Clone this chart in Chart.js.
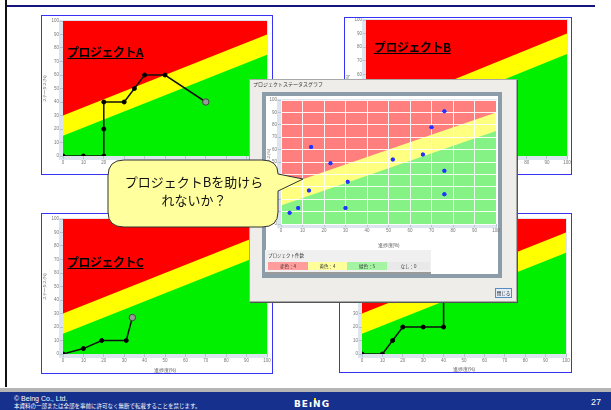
<!DOCTYPE html>
<html>
<head>
<meta charset="utf-8">
<script src="https://cdn.jsdelivr.net/npm/chart.js@4.4.0/dist/chart.umd.min.js"></script>
<style>
body{margin:0;width:611px;height:410px;position:relative;overflow:hidden;background:#fff;font-family:"Noto Sans CJK JP","Noto Sans",sans-serif;}
.abs{position:absolute}
.box{position:absolute;border:1px solid #3434f2;background:#fff}
.box canvas{position:absolute;left:0;top:0}
.plabel{position:absolute;font-size:12px;font-weight:bold;line-height:12px;text-decoration:underline;color:#000;letter-spacing:-0.5px;white-space:nowrap}
.cell{position:absolute;top:262px;height:8px;font-size:4.5px;line-height:8px;text-align:center;color:#333}
</style>
</head>
<body>
<div class="abs" style="left:5px;top:0;width:2px;height:387px;background:#111"></div>
<div class="abs" style="left:7px;top:5px;width:588px;height:2px;background:#14147a"></div>

<div class="box" style="left:41px;top:15px;width:230px;height:158px"><canvas id="cA" width="230" height="158"></canvas></div>
<div class="box" style="left:344px;top:17px;width:226px;height:156px"><canvas id="cB" width="226" height="156"></canvas></div>
<div class="box" style="left:41px;top:213px;width:230px;height:159px"><canvas id="cC" width="230" height="159"></canvas></div>
<div class="box" style="left:339px;top:213px;width:231px;height:158px"><canvas id="cD" width="231" height="158"></canvas></div>

<div class="plabel" style="left:67px;top:46px">プロジェクトA</div>
<div class="plabel" style="left:374px;top:41px">プロジェクトB</div>
<div class="plabel" style="left:67px;top:256px">プロジェクトC</div>

<!-- popup window -->
<div class="abs" style="left:249px;top:79px;width:266px;height:221px;background:#efede9;border:1px solid #a8a8a8;box-shadow:1px 1px 0 #555"></div>
<div class="abs" style="left:253px;top:80px;font-size:5px;line-height:7px;color:#333">プロジェクトステータスグラフ</div>
<div class="abs" style="left:262px;top:92px;width:240px;height:186px;box-sizing:border-box;border:4px solid #8c9da9;background:#fff"></div>
<canvas id="cP" class="abs" width="234" height="152" style="left:266px;top:96px"></canvas>
<div class="abs" style="left:265px;top:250px;width:166px;height:22px;background:#f0f0f0;border-bottom:2px solid #9a9a9a"></div>
<div class="abs" style="left:268px;top:252px;font-size:4.5px;line-height:6px;color:#333">プロジェクト件数</div>
<div class="cell" style="left:268px;width:40px;background:#ff9c9c">赤色：4</div>
<div class="cell" style="left:308px;width:39px;background:#ffff9c">黄色：4</div>
<div class="cell" style="left:347px;width:40px;background:#a4f4a4">緑色：5</div>
<div class="cell" style="left:387px;width:43px;background:#e9e9e9">なし：0</div>
<div class="abs" style="left:495px;top:288px;width:15px;height:8px;border:1px solid #5b8cc0;background:#e4edf7;font-size:4.5px;line-height:8px;text-align:center;color:#222">閉じる</div>

<!-- callout -->
<svg class="abs" style="left:0;top:0" width="611" height="410">
<path d="M124,160 H262 Q278,160 278,174 L303,179 L278,191 V212 Q278,227 262,227 H124 Q108,227 108,212 V176 Q108,160 124,160 Z" fill="#ffff9e" stroke="#333" stroke-width="1"/>
</svg>
<div class="abs" style="left:108px;top:173px;width:172px;text-align:center;font-size:13px;line-height:18px;color:#111">プロジェクトBを助けら<br>れないか？</div>

<!-- footer -->
<div class="abs" style="left:0;top:388px;width:611px;height:4px;background:#b5b5b5"></div>
<div class="abs" style="left:0;top:392px;width:611px;height:18px;background:#15318d"></div>
<div class="abs" style="left:14px;top:395px;font-size:7px;line-height:8px;color:#fff;font-family:'Liberation Sans',sans-serif">© Being Co., Ltd.</div>
<div class="abs" style="left:14px;top:403px;font-size:5.5px;line-height:6px;color:#fff">本資料の一部または全部を事前に許可なく無断で転載することを禁じます。</div>
<div class="abs" style="left:294px;top:399px;font-size:9px;line-height:10px;font-weight:bold;color:#fff;letter-spacing:1px;font-family:'DejaVu Sans',sans-serif">BEıNG</div>
<div class="abs" style="left:314px;top:398px;width:2px;height:2px;background:#ffd800"></div>
<div class="abs" style="left:591px;top:397px;font-size:9px;line-height:10px;color:#fff;font-family:'Liberation Sans',sans-serif">27</div>

<script>
// status band boundaries (status % at progress 0 and 100)
var bandX = [0, 100];
var yellowTop = [30, 90];
var greenTop = [15, 75];
var chartTop = [100, 100];

var progA = [0, 10, 20, 20, 20, 30, 35, 40, 50, 70];
var statA = [0, 0, 0, 20, 40, 40, 50, 60, 60, 40];
var progC = [0, 10, 19, 31, 34];
var statC = [0, 4, 10, 10, 27];
var progD = [0, 10, 15, 20, 30, 40, 40];
var statD = [0, 0, 10, 20, 20, 20, 50];

// status graph window (all projects)
var popX = [4, 8, 13, 14, 23, 31, 30, 52, 66, 70, 76, 76, 76];
var popY = [9, 13, 27, 62, 49, 34, 13, 52, 56, 78, 91, 43, 24];

function pts(xs, ys) {
    return xs.map(function(x, i) {return {x: x, y: ys[i]};});
}

var plotFrame = {
    id: 'plotFrame',
    beforeDraw: function(chart) {
        var a = chart.chartArea, c = chart.ctx;
        c.save();
        c.fillStyle = '#dce4ee';
        c.fillRect(a.left - 4, a.top - 1, a.right - a.left + 5, a.bottom - a.top + 5);
        c.restore();
    }
};

// grid is drawn over the bands, so put the points back on top
var pointsOnTop = {
    id: 'pointsOnTop',
    afterDraw: function(chart) {
        chart.getDatasetMeta(0).data.forEach(function(p) {
            p.draw(chart.ctx, chart.chartArea);
        });
    }
};

function bands(red, yellow, green) {
    var base = {pointRadius: 0, borderWidth: 0, fill: 'start'};
    return [
        Object.assign({data: pts(bandX, greenTop), backgroundColor: green}, base),
        Object.assign({data: pts(bandX, yellowTop), backgroundColor: yellow}, base),
        Object.assign({data: pts(bandX, chartTop), backgroundColor: red}, base)
    ];
}

function noPad(s) {
    s.paddingLeft = 0; s.paddingRight = 0; s.paddingTop = 0; s.paddingBottom = 0;
}

function axes(yw, xh, fs, popup) {
    var gridCol = popup ? 'rgba(255,255,255,0.9)' : '#b7c3d3';
    return {
        x: {
            type: 'linear', min: 0, max: 100,
            ticks: {stepSize: 10, font: {size: fs}, color: '#777', padding: 1, maxRotation: 0, autoSkip: false},
            grid: {drawOnChartArea: !!popup, color: gridCol, tickLength: 3, tickColor: '#b7c3d3', z: popup ? 1 : -1},
            border: {display: false},
            title: {display: true, text: '進捗度(%)', font: {size: fs}, color: '#555', padding: 0},
            afterFit: function(s) {s.height = xh; noPad(s);}
        },
        y: {
            type: 'linear', min: 0, max: 100,
            ticks: {stepSize: 10, font: {size: fs}, color: '#777', padding: 1, autoSkip: false},
            grid: {drawOnChartArea: !!popup, color: gridCol, tickLength: 3, tickColor: '#b7c3d3', z: popup ? 1 : -1},
            border: {display: false},
            title: {display: true, text: 'ステータス(%)', font: {size: fs - 0.5}, color: '#555', padding: 0},
            afterFit: function(s) {s.width = yw; noPad(s);}
        }
    };
}

function projectSet(xs, ys) {
    var n = xs.length;
    return {
        data: pts(xs, ys),
        borderColor: '#111',
        borderWidth: 1.5,
        fill: false,
        pointRadius: xs.map(function(x, i) {return i == n - 1 ? 3.2 : 2;}),
        pointBackgroundColor: xs.map(function(x, i) {return i == n - 1 ? '#9a9a9a' : '#000';}),
        pointBorderColor: xs.map(function(x, i) {return i == n - 1 ? '#444' : '#000';}),
        pointBorderWidth: 1
    };
}

function makeChart(id, line, yw, xh, pad) {
    var sets = bands('#ff0000', '#ffff00', '#00f000');
    if (line) sets.unshift(line);
    return new Chart(document.getElementById(id), {
        type: 'line',
        data: {datasets: sets},
        options: {
            responsive: false, animation: false,
            layout: {padding: pad},
            elements: {line: {tension: 0}},
            plugins: {legend: {display: false}, tooltip: {enabled: false}},
            scales: axes(yw, xh, 4.5, false)
        },
        plugins: [plotFrame]
    });
}

makeChart('cA', projectSet(progA, statA), 21, 18, {top: 1, right: 4, left: 0, bottom: 0});
makeChart('cB', null, 21, 18, {top: 2, right: 4, left: 0, bottom: 0});
makeChart('cC', projectSet(progC, statC), 21, 19, {top: 1, right: 4, left: 0, bottom: 0});
makeChart('cD', projectSet(progD, statD), 22, 18, {top: 1, right: 4, left: 0, bottom: 0});

var popSets = bands('#ff7e7e', '#ffff80', '#84f284');
popSets.unshift({
    data: pts(popX, popY),
    showLine: false,
    pointRadius: 2,
    pointBackgroundColor: '#2233ff',
    pointBorderColor: '#2233ff',
    pointBorderWidth: 0
});
new Chart(document.getElementById('cP'), {
    type: 'line',
    data: {datasets: popSets},
    options: {
        responsive: false, animation: false,
        layout: {padding: {top: 3, right: 4, left: 0, bottom: 0}},
        elements: {line: {tension: 0}},
        plugins: {legend: {display: false}, tooltip: {enabled: false}},
        scales: axes(15, 24, 4.5, true)
    },
    plugins: [plotFrame, pointsOnTop]
});
</script>
</body>
</html>
